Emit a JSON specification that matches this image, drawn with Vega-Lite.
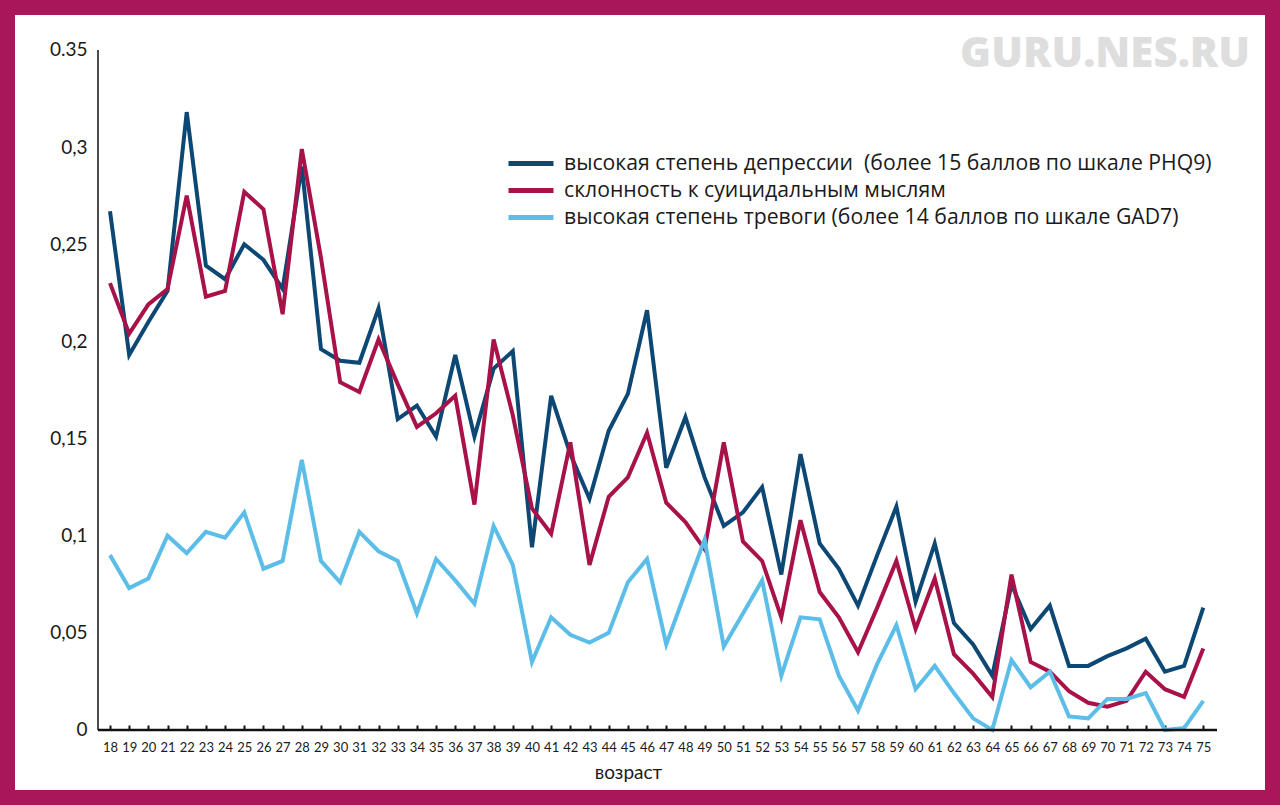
{
  "$schema": "https://vega.github.io/schema/vega-lite/v6.json",
  "width": 1280,
  "height": 805,
  "autosize": {"type": "none"},
  "padding": 0,
  "background": "white",
  "config": {
    "view": {"stroke": "#AA165A", "strokeWidth": 30, "fill": "white"},
    "font": "Lato",
    "axisX": {
      "orient": "bottom",
      "offset": -75,
      "domain": false,
      "grid": false,
      "tickSize": -5,
      "tickWidth": 2,
      "tickColor": "#111111",
      "labelFontSize": 13,
      "labelColor": "#1a1a1a",
      "labelPadding": 16,
      "labelFlush": false,
      "labelOverlap": false,
      "titleFont": "Lato",
      "titleFontSize": 19,
      "titleFontWeight": "normal",
      "titleColor": "#1a1a1a",
      "titleX": 628,
      "titleY": 42,
      "titleBaseline": "middle"
    },
    "axisY": {
      "offset": -98,
      "domain": false,
      "ticks": false,
      "grid": false,
      "labelFontSize": 19,
      "labelColor": "#1a1a1a",
      "labelPadding": 11
    }
  },
  "title": {
    "text": "GURU.NES.RU",
    "anchor": "end",
    "frame": "group",
    "orient": "top",
    "font": "Open Sans",
    "fontSize": 42,
    "fontWeight": 800,
    "color": "#DEDEDE",
    "dx": -30,
    "dy": 109,
    "offset": 0,
    "baseline": "alphabetic"
  },
  "data": {
    "values": [
      {"age": 18, "d": 0.267, "s": 0.230, "a": 0.090},
      {"age": 19, "d": 0.193, "s": 0.204, "a": 0.073},
      {"age": 20, "d": 0.210, "s": 0.219, "a": 0.078},
      {"age": 21, "d": 0.226, "s": 0.227, "a": 0.100},
      {"age": 22, "d": 0.318, "s": 0.275, "a": 0.091},
      {"age": 23, "d": 0.239, "s": 0.223, "a": 0.102},
      {"age": 24, "d": 0.232, "s": 0.226, "a": 0.099},
      {"age": 25, "d": 0.250, "s": 0.277, "a": 0.112},
      {"age": 26, "d": 0.242, "s": 0.268, "a": 0.083},
      {"age": 27, "d": 0.227, "s": 0.214, "a": 0.087},
      {"age": 28, "d": 0.290, "s": 0.299, "a": 0.139},
      {"age": 29, "d": 0.196, "s": 0.243, "a": 0.087},
      {"age": 30, "d": 0.190, "s": 0.179, "a": 0.076},
      {"age": 31, "d": 0.189, "s": 0.174, "a": 0.102},
      {"age": 32, "d": 0.217, "s": 0.201, "a": 0.092},
      {"age": 33, "d": 0.160, "s": 0.178, "a": 0.087},
      {"age": 34, "d": 0.167, "s": 0.156, "a": 0.060},
      {"age": 35, "d": 0.151, "s": 0.163, "a": 0.088},
      {"age": 36, "d": 0.193, "s": 0.172, "a": 0.077},
      {"age": 37, "d": 0.151, "s": 0.116, "a": 0.065},
      {"age": 38, "d": 0.186, "s": 0.201, "a": 0.105},
      {"age": 39, "d": 0.195, "s": 0.162, "a": 0.085},
      {"age": 40, "d": 0.094, "s": 0.114, "a": 0.035},
      {"age": 41, "d": 0.172, "s": 0.101, "a": 0.058},
      {"age": 42, "d": 0.142, "s": 0.148, "a": 0.049},
      {"age": 43, "d": 0.119, "s": 0.085, "a": 0.045},
      {"age": 44, "d": 0.154, "s": 0.120, "a": 0.050},
      {"age": 45, "d": 0.173, "s": 0.130, "a": 0.076},
      {"age": 46, "d": 0.216, "s": 0.153, "a": 0.088},
      {"age": 47, "d": 0.135, "s": 0.117, "a": 0.044},
      {"age": 48, "d": 0.161, "s": 0.107, "a": 0.071},
      {"age": 49, "d": 0.130, "s": 0.093, "a": 0.098},
      {"age": 50, "d": 0.105, "s": 0.148, "a": 0.043},
      {"age": 51, "d": 0.112, "s": 0.097, "a": 0.060},
      {"age": 52, "d": 0.125, "s": 0.087, "a": 0.077},
      {"age": 53, "d": 0.080, "s": 0.058, "a": 0.028},
      {"age": 54, "d": 0.142, "s": 0.108, "a": 0.058},
      {"age": 55, "d": 0.096, "s": 0.071, "a": 0.057},
      {"age": 56, "d": 0.083, "s": 0.058, "a": 0.028},
      {"age": 57, "d": 0.064, "s": 0.040, "a": 0.010},
      {"age": 58, "d": 0.090, "s": 0.063, "a": 0.034},
      {"age": 59, "d": 0.115, "s": 0.087, "a": 0.054},
      {"age": 60, "d": 0.066, "s": 0.052, "a": 0.021},
      {"age": 61, "d": 0.096, "s": 0.078, "a": 0.033},
      {"age": 62, "d": 0.055, "s": 0.039, "a": 0.019},
      {"age": 63, "d": 0.044, "s": 0.029, "a": 0.006},
      {"age": 64, "d": 0.028, "s": 0.017, "a": 0.000},
      {"age": 65, "d": 0.075, "s": 0.080, "a": 0.036},
      {"age": 66, "d": 0.052, "s": 0.035, "a": 0.022},
      {"age": 67, "d": 0.064, "s": 0.030, "a": 0.030},
      {"age": 68, "d": 0.033, "s": 0.020, "a": 0.007},
      {"age": 69, "d": 0.033, "s": 0.014, "a": 0.006},
      {"age": 70, "d": 0.038, "s": 0.012, "a": 0.016},
      {"age": 71, "d": 0.042, "s": 0.015, "a": 0.016},
      {"age": 72, "d": 0.047, "s": 0.030, "a": 0.019},
      {"age": 73, "d": 0.030, "s": 0.021, "a": 0.000},
      {"age": 74, "d": 0.033, "s": 0.017, "a": 0.001},
      {"age": 75, "d": 0.063, "s": 0.042, "a": 0.015}
    ]
  },
  "layer": [
    {
      "transform": [{"fold": ["d", "s", "a"], "as": ["series", "value"]}],
      "mark": {"type": "line", "strokeWidth": 4},
      "encoding": {
        "x": {
          "field": "age",
          "type": "quantitative",
          "scale": {"domain": [12.265, 79.0], "nice": false, "zero": false},
          "axis": {
            "values": [18,19,20,21,22,23,24,25,26,27,28,29,30,31,32,33,34,35,36,37,38,39,40,41,42,43,44,45,46,47,48,49,50,51,52,53,54,55,56,57,58,59,60,61,62,63,64,65,66,67,68,69,70,71,72,73,74,75],
            "labelOverlap": false,
            "title": "возраст"
          }
        },
        "y": {
          "field": "value",
          "type": "quantitative",
          "scale": {"domain": [-0.0386, 0.3757], "nice": false, "zero": false},
          "axis": {
            "values": [0, 0.05, 0.1, 0.15, 0.2, 0.25, 0.3, 0.35],
            "labelExpr": "datum.value >= 0.349 ? '0.35' : replace(format(datum.value, '.2~f'), '.', ',')",
            "title": null
          }
        },
        "color": {
          "field": "series",
          "type": "nominal",
          "scale": {"domain": ["d", "s", "a"], "range": ["#0D4875", "#A81248", "#5CBEE8"]},
          "legend": {
            "orient": "none",
            "legendX": 506,
            "legendY": 150,
            "direction": "vertical",
            "title": null,
            "symbolType": "stroke",
            "symbolSize": 2025,
            "symbolStrokeWidth": 5,
            "labelFont": "Open Sans",
            "labelFontSize": 21.2,
            "labelColor": "#1a1a1a",
            "labelOffset": 8,
            "labelLimit": 800,
            "clipHeight": 27,
            "rowPadding": 0,
            "padding": 0,
            "labelExpr": "datum.label == 'd' ? 'высокая степень депрессии \u00a0(более 15 баллов по шкале PHQ9)' : datum.label == 's' ? '\u00a0склонность к суицидальным мыслям' : 'высокая степень тревоги (более 14 баллов по шкале GAD7)'"
          }
        }
      }
    },
    {
      "data": {"values": [{}]},
      "mark": {"type": "rule", "color": "#111111", "strokeWidth": 1.5},
      "encoding": {
        "x": {
          "datum": 17.374,
          "type": "quantitative",
          "scale": {"domain": [12.265, 79.0], "nice": false, "zero": false},
          "axis": {
            "values": [18,19,20,21,22,23,24,25,26,27,28,29,30,31,32,33,34,35,36,37,38,39,40,41,42,43,44,45,46,47,48,49,50,51,52,53,54,55,56,57,58,59,60,61,62,63,64,65,66,67,68,69,70,71,72,73,74,75],
            "labelOverlap": false,
            "title": "возраст"
          }
        },
        "y": {
          "datum": 0,
          "type": "quantitative",
          "scale": {"domain": [-0.0386, 0.3757], "nice": false, "zero": false},
          "axis": {
            "values": [0, 0.05, 0.1, 0.15, 0.2, 0.25, 0.3, 0.35],
            "labelExpr": "datum.value >= 0.349 ? '0.35' : replace(format(datum.value, '.2~f'), '.', ',')",
            "title": null
          }
        },
        "y2": {"datum": 0.35}
      }
    },
    {
      "data": {"values": [{}]},
      "mark": {"type": "rule", "color": "#111111", "strokeWidth": 2.5},
      "encoding": {
        "x": {
          "datum": 17.374,
          "type": "quantitative",
          "scale": {"domain": [12.265, 79.0], "nice": false, "zero": false},
          "axis": {
            "values": [18,19,20,21,22,23,24,25,26,27,28,29,30,31,32,33,34,35,36,37,38,39,40,41,42,43,44,45,46,47,48,49,50,51,52,53,54,55,56,57,58,59,60,61,62,63,64,65,66,67,68,69,70,71,72,73,74,75],
            "labelOverlap": false,
            "title": "возраст"
          }
        },
        "x2": {"datum": 75.716},
        "y": {
          "datum": 0,
          "type": "quantitative",
          "scale": {"domain": [-0.0386, 0.3757], "nice": false, "zero": false},
          "axis": {
            "values": [0, 0.05, 0.1, 0.15, 0.2, 0.25, 0.3, 0.35],
            "labelExpr": "datum.value >= 0.349 ? '0.35' : replace(format(datum.value, '.2~f'), '.', ',')",
            "title": null
          }
        }
      }
    }
  ]
}
